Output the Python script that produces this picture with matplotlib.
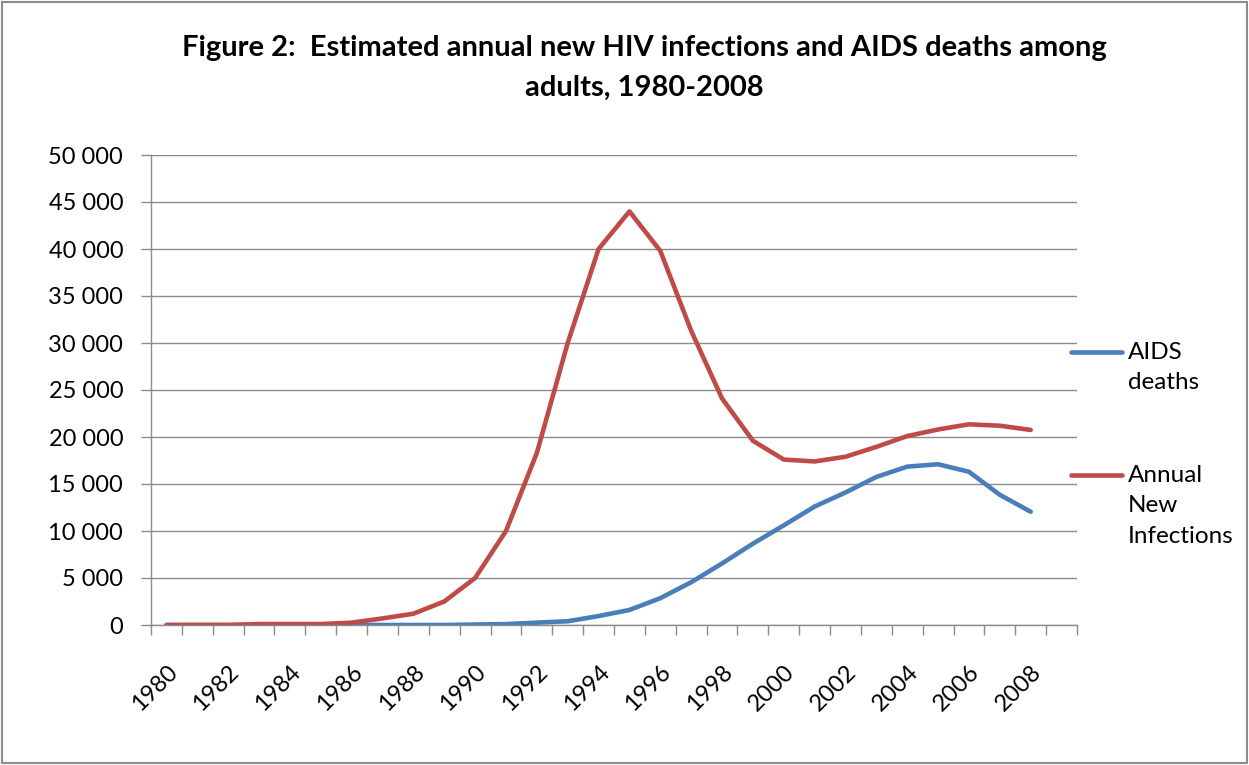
import numpy as np
import matplotlib.pyplot as plt
from matplotlib.patches import Rectangle
from matplotlib.ticker import FuncFormatter

plt.rcParams['font.family'] = ['Lato', 'DejaVu Sans']

years = list(range(1980, 2010))
# 2009 is an empty category in the original sheet
new_infections = [0, 0, 0, 100, 100, 100, 250, 700, 1200, 2500, 5000, 10000, 18300,
                  30000, 40000, 44000, 39800, 31300, 24100, 19600, 17600, 17400,
                  17900, 18950, 20100, 20800, 21350, 21200, 20750, np.nan]
aids_deaths = [0, 0, 0, 0, 0, 0, 0, 0, 0, 0, 50, 100, 250, 400, 950, 1600, 2850,
               4550, 6550, 8650, 10600, 12600, 14100, 15750, 16850, 17100, 16300,
               13850, 12050, np.nan]
series_names = ['AIDS\ndeaths', 'Annual\nNew\nInfections']

blue = '#4a7ebb'
red = '#be4b48'
grey = '#8c8c8c'

fig = plt.figure(figsize=(12.49, 7.65), dpi=100)
ax = fig.add_axes([151/1249, 1-625/765, (1077-151)/1249, (625-155)/765])

x = np.arange(len(years)) + 0.5
ax.plot(x, aids_deaths, color=blue, lw=3.3, solid_capstyle='round', solid_joinstyle='round')
ax.plot(x, new_infections, color=red, lw=3.3, solid_capstyle='round', solid_joinstyle='round')

ax.set_xlim(0, len(years))
ax.set_ylim(0, 50000)
ax.set_yticks(range(0, 50001, 5000))
ax.yaxis.set_major_formatter(FuncFormatter(lambda v, p: f'{int(v):,}'.replace(',', ' ')))
ax.grid(axis='y', color=grey, lw=1)
ax.set_axisbelow(True)

# category boundary ticks, labels every 2 years
ax.set_xticks(np.arange(len(years) + 1))
ax.set_xticklabels([])
ax.set_xticks(x[::2], minor=True)
ax.set_xticklabels([str(y) for y in years[::2]], minor=True, rotation=45,
                   ha='right', va='top', rotation_mode='anchor', fontsize=17)
ax.tick_params(axis='x', which='minor', length=0, pad=26)
ax.tick_params(axis='x', which='major', length=7, color=grey, width=1)
ax.tick_params(axis='y', length=7, color=grey, width=1, labelsize=17, pad=13)

for s in ['top', 'right']:
    ax.spines[s].set_visible(False)
for s in ['left', 'bottom']:
    ax.spines[s].set_color(grey)
    ax.spines[s].set_linewidth(1)

fig.text(644/1249, 1-48/765, 'Figure 2:  Estimated annual new HIV infections and AIDS deaths among',
         ha='center', va='center', fontsize=21, fontweight='bold')
fig.text(644/1249, 1-88/765, 'adults, 1980-2008',
         ha='center', va='center', fontsize=21, fontweight='bold')

# legend drawn by hand to mimic the Excel layout
for name, col, ly in [(series_names[0], blue, 352), (series_names[1], red, 475)]:
    fig.add_artist(plt.Line2D([1071/1249, 1122/1249], [1-ly/765, 1-ly/765],
                              color=col, lw=3.3, solid_capstyle='round'))
    fig.text(1128/1249, 1-(ly-10)/765, name, ha='left', va='top', fontsize=17.5,
             linespacing=1.55)

fig.add_artist(Rectangle((0.002, 0.002), 0.996, 0.995, transform=fig.transFigure,
                         fill=False, edgecolor=grey, lw=1.5))

fig.savefig('out.png', dpi=100)
